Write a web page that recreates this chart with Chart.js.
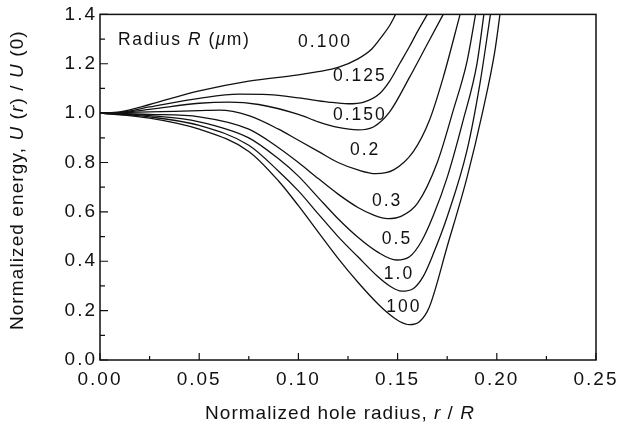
<!DOCTYPE html>
<html>
<head>
<meta charset="utf-8">
<script src="https://cdn.jsdelivr.net/npm/chart.js@4"></script>
<style>
html,body{margin:0;padding:0;background:#fff}
#wrap{width:632px;height:432px}
</style>
</head>
<body>
<div id="wrap"><canvas id="c" width="632" height="432"></canvas></div>
<script>
const fam = "'Liberation Sans', Arial, Helvetica, sans-serif";
const ink = '#111111';

// tick values
const xTicks = [0, 0.05, 0.10, 0.15, 0.20, 0.25];
const yTicks = [0, 0.2, 0.4, 0.6, 0.8, 1.0, 1.2, 1.4];
const xMinor = [0.025, 0.075, 0.125, 0.175, 0.225];
const yMinor = [0.1, 0.3, 0.5, 0.7, 0.9, 1.1, 1.3];

// curve labels (radius R in um) and where each label sits, in data units
const radii  = ['0.100', '0.125', '0.150', '0.2', '0.3', '0.5', '1.0', '100'];
const labelX = [0.1134, 0.131, 0.131, 0.1336, 0.1447, 0.1497, 0.1507, 0.1532];
const labelY = [1.286, 1.149, 0.99, 0.849, 0.642, 0.488, 0.346, 0.213];

// [r/R, U(r)/U(0)]
const c0100 = [[0,1],[0.01,1.005],[0.025,1.035],[0.05,1.09],[0.075,1.13],[0.10,1.155],[0.11,1.168],[0.12,1.185],[0.13,1.22],[0.137,1.26],[0.142,1.31],[0.146,1.355],[0.149,1.4]];
const c0125 = [[0,1],[0.01,1.003],[0.025,1.025],[0.05,1.06],[0.07,1.077],[0.085,1.075],[0.10,1.062],[0.115,1.045],[0.125,1.038],[0.133,1.045],[0.141,1.08],[0.146,1.13],[0.151,1.2],[0.156,1.27],[0.16,1.33],[0.165,1.4]];
const c0150 = [[0,1],[0.01,1.002],[0.025,1.015],[0.05,1.04],[0.065,1.045],[0.08,1.035],[0.10,0.995],[0.11,0.965],[0.12,0.942],[0.13,0.932],[0.138,0.945],[0.146,1.005],[0.156,1.145],[0.165,1.28],[0.173,1.4]];
const c0200 = [[0,1],[0.025,1.005],[0.05,1.01],[0.06,1.012],[0.075,0.99],[0.09,0.935],[0.10,0.89],[0.11,0.845],[0.12,0.80],[0.13,0.77],[0.139,0.755],[0.148,0.77],[0.158,0.845],[0.166,0.97],[0.173,1.145],[0.1815,1.4]];
const c0300 = [[0,1],[0.025,0.995],[0.05,0.985],[0.075,0.935],[0.09,0.86],[0.10,0.80],[0.11,0.735],[0.12,0.672],[0.13,0.618],[0.138,0.587],[0.145,0.573],[0.152,0.583],[0.16,0.634],[0.17,0.80],[0.178,1.01],[0.185,1.21],[0.1893,1.4]];
const c0500 = [[0,1],[0.025,0.99],[0.05,0.965],[0.075,0.90],[0.09,0.815],[0.10,0.745],[0.11,0.658],[0.12,0.572],[0.13,0.497],[0.14,0.437],[0.1495,0.405],[0.156,0.418],[0.162,0.48],[0.168,0.585],[0.175,0.74],[0.183,0.97],[0.19,1.2],[0.1935,1.4]];
const c1000 = [[0,1],[0.025,0.985],[0.05,0.95],[0.075,0.87],[0.09,0.765],[0.10,0.685],[0.11,0.592],[0.12,0.5],[0.13,0.418],[0.14,0.338],[0.146,0.3],[0.152,0.279],[0.158,0.29],[0.163,0.34],[0.168,0.43],[0.175,0.58],[0.185,0.85],[0.1915,1.12],[0.1968,1.4]];
const c100  = [[0,1],[0.025,0.98],[0.05,0.935],[0.075,0.845],[0.09,0.725],[0.10,0.625],[0.11,0.518],[0.12,0.412],[0.13,0.315],[0.14,0.228],[0.146,0.184],[0.151,0.156],[0.156,0.143],[0.161,0.155],[0.166,0.215],[0.175,0.46],[0.185,0.74],[0.193,1.01],[0.199,1.25],[0.2016,1.4]];
const curves = [c0100, c0125, c0150, c0200, c0300, c0500, c1000, c100];

// draw a run of text pieces, some italic, centred on (x,y)
function drawRich(ctx, parts, x, y, size, spacing, rot, align){
	ctx.save();
	ctx.translate(x, y);
	if(rot) ctx.rotate(rot);
	ctx.letterSpacing = spacing + 'px';
	ctx.textBaseline = 'middle';
	ctx.textAlign = 'left';
	ctx.fillStyle = ink;
	var w = 0, i;
	for(i = 0; i < parts.length; i++){
		ctx.font = (parts[i][1] ? 'italic ' : '') + size + 'px ' + fam;
		w += ctx.measureText(parts[i][0]).width;
	}
	var px = align == 'left' ? 0 : -w/2;
	for(i = 0; i < parts.length; i++){
		ctx.font = (parts[i][1] ? 'italic ' : '') + size + 'px ' + fam;
		ctx.fillText(parts[i][0], px, 0);
		px += ctx.measureText(parts[i][0]).width;
	}
	ctx.restore();
}

const frame = {
	id: 'frame',
	beforeDraw(chart){ chart.ctx.letterSpacing = '2px'; },
	afterDraw(chart){
		const ctx = chart.ctx, a = chart.chartArea, x = chart.scales.x, y = chart.scales.y;
		ctx.save();
		ctx.letterSpacing = '0px';
		ctx.strokeStyle = ink;
		ctx.lineWidth = 1.5;
		ctx.strokeRect(a.left, a.top, a.right - a.left, a.bottom - a.top);

		// inward ticks
		ctx.lineWidth = 1.2;
		ctx.beginPath();
		xTicks.forEach(v => { const p = x.getPixelForValue(v); ctx.moveTo(p, a.bottom); ctx.lineTo(p, a.bottom - 7); });
		xMinor.forEach(v => { const p = x.getPixelForValue(v); ctx.moveTo(p, a.bottom); ctx.lineTo(p, a.bottom - 4); });
		yTicks.forEach(v => { const p = y.getPixelForValue(v); ctx.moveTo(a.left, p); ctx.lineTo(a.left + 8, p); });
		yMinor.forEach(v => { const p = y.getPixelForValue(v); ctx.moveTo(a.left, p); ctx.lineTo(a.left + 5, p); });
		ctx.stroke();
		ctx.restore();

		// curve labels
		radii.forEach((t, i) => {
			drawRich(ctx, [[t, 0]], x.getPixelForValue(labelX[i]), y.getPixelForValue(labelY[i]), 17.5, 2, 0);
		});
		drawRich(ctx, [['Radius ', 0], ['R', 1], [' (', 0], ['\u03bc', 1], ['m)', 0]],
			x.getPixelForValue(0.0091), y.getPixelForValue(1.295), 17.5, 1.5, 0, 'left');

		// axis titles
		drawRich(ctx, [['Normalized hole radius, ', 0], ['r', 1], [' / ', 0], ['R', 1]],
			(a.left + a.right)/2 - 8, x.bottom - 18, 19, 1, 0);
		drawRich(ctx, [['Normalized energy, ', 0], ['U', 1], [' (', 0], ['r', 1], [') / ', 0], ['U', 1], [' (0)', 0]],
			y.left + 18, (a.top + a.bottom)/2 - 7, 19, 1.1, -Math.PI/2);
	}
};

const datasets = curves.map((c, i) => ({
	label: radii[i],
	data: c.map(p => ({x: p[0], y: p[1]})),
	borderColor: ink,
	borderWidth: 1.3,
	pointRadius: 0,
	fill: false,
	cubicInterpolationMode: 'monotone'
}));

new Chart(document.getElementById('c'), {
	type: 'line',
	data: { datasets: datasets },
	options: {
		responsive: false,
		devicePixelRatio: 1,
		animation: false,
		layout: { padding: { top: 14, right: 36, left: 0, bottom: 0 } },
		plugins: { legend: { display: false }, tooltip: { enabled: false } },
		scales: {
			x: {
				type: 'linear', min: 0, max: 0.25,
				afterBuildTicks: s => { s.ticks = xTicks.map(v => ({value: v})); },
				afterFit: s => { s.height = 72; },
				grid: { display: false, drawTicks: false },
				border: { display: false },
				ticks: { padding: 8, color: ink, font: { family: fam, size: 19 }, callback: v => v.toFixed(2), maxRotation: 0 }
			},
			y: {
				type: 'linear', min: 0, max: 1.4,
				afterBuildTicks: s => { s.ticks = yTicks.map(v => ({value: v})); },
				afterFit: s => { s.width = 100; },
				grid: { display: false, drawTicks: false },
				border: { display: false },
				ticks: { padding: 3, color: ink, font: { family: fam, size: 19 }, callback: v => v.toFixed(1) }
			}
		}
	},
	plugins: [frame]
});
</script>
</body>
</html>
